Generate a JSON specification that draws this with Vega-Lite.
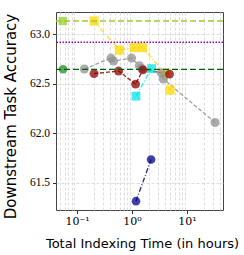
{
  "$schema": "https://vega.github.io/schema/vega-lite/v6.json",
  "width": 167,
  "height": 198,
  "autosize": {"type": "none"},
  "padding": {"left": 56, "top": 12, "right": 21, "bottom": 45},
  "background": "white",
  "config": {
    "view": {"stroke": "#444", "strokeWidth": 1},
    "axis": {
      "domain": false,
      "grid": true,
      "gridColor": "#d4d4d4",
      "gridDash": [3, 2],
      "gridWidth": 0.8,
      "tickColor": "#333",
      "labelColor": "black",
      "labelFont": "DejaVu Serif",
      "labelFontSize": 11,
      "titleFont": "DejaVu Sans",
      "titleFontWeight": "normal",
      "titleColor": "black"
    }
  },
  "resolve": {"axis": {"x": "independent"}},
  "datasets": {
    "pts": [
      {"s": "gold", "t": 0.204, "acc": 63.135},
      {"s": "gold", "t": 0.588, "acc": 62.841},
      {"s": "gold", "t": 1.11, "acc": 62.866},
      {"s": "gold", "t": 1.55, "acc": 62.866},
      {"s": "gold", "t": 3.98, "acc": 62.608},
      {"s": "gold", "t": 4.91, "acc": 62.436},
      {"s": "gray", "t": 0.136, "acc": 62.649},
      {"s": "gray", "t": 0.415, "acc": 62.76},
      {"s": "gray", "t": 0.461, "acc": 62.73},
      {"s": "gray", "t": 0.98, "acc": 62.76},
      {"s": "gray", "t": 1.36, "acc": 62.682},
      {"s": "gray", "t": 1.5, "acc": 62.655},
      {"s": "gray", "t": 3.4, "acc": 62.612},
      {"s": "gray", "t": 3.7, "acc": 62.548},
      {"s": "gray", "t": 32.3, "acc": 62.109},
      {"s": "maroon", "t": 0.204, "acc": 62.603},
      {"s": "maroon", "t": 0.57, "acc": 62.629},
      {"s": "maroon", "t": 1.16, "acc": 62.497},
      {"s": "maroon", "t": 1.58, "acc": 62.641},
      {"s": "maroon", "t": 4.8, "acc": 62.598},
      {"s": "cyan", "t": 1.18, "acc": 62.375},
      {"s": "cyan", "t": 2.26, "acc": 62.654},
      {"s": "navy", "t": 1.18, "acc": 61.313},
      {"s": "navy", "t": 2.22, "acc": 61.735},
      {"s": "dgreen", "t": 0.0557, "acc": 62.646},
      {"s": "lgreen", "t": 0.055, "acc": 63.135}
    ],
    "refs": [
      {"r": "lgreen", "acc": 63.135},
      {"r": "purple", "acc": 62.919},
      {"r": "dgreen", "acc": 62.646}
    ]
  },
  "encoding": {
    "y": {
      "field": "acc",
      "type": "quantitative",
      "scale": {"domain": [61.224, 63.226], "nice": false, "zero": false},
      "axis": {
        "title": "Downstream Task Accuracy",
        "titleFontSize": 15,
        "titleAngle": -90,
        "titleX": -41,
        "titleY": 104,
        "titleAlign": "center",
        "titleBaseline": "alphabetic",
        "values": [61.5, 62, 62.5, 63],
        "format": ".1f",
        "tickSize": 3.5,
        "labelPadding": 3,
        "labelFont": "Liberation Serif, DejaVu Serif",
        "labelFontSize": 11.5
      }
    }
  },
  "layer": [
    {
      "data": {"name": "pts"},
      "mark": {"type": "line", "strokeWidth": 1.3, "opacity": 0.85},
      "encoding": {
        "x": {
          "field": "t",
          "type": "quantitative",
          "scale": {"type": "log", "domain": [0.0415, 45], "nice": false, "zero": false},
          "axis": {
            "orient": "top",
            "title": null,
            "labels": false,
            "ticks": false,
            "domain": false,
            "values": [0.05, 0.06, 0.07, 0.08, 0.09, 0.2, 0.3, 0.4, 0.5, 0.6, 0.7, 0.8, 0.9, 2, 3, 4, 5, 6, 7, 8, 9, 20, 30, 40]
          }
        },
        "color": {"field": "s", "type": "nominal", "legend": null,
          "scale": {"domain": ["gold", "gray", "maroon", "cyan", "navy", "dgreen", "lgreen"],
                    "range": ["#FFD700", "#909090", "#8B0000", "#00E5EE", "#00008B", "#228B22", "#9ACD32"]}},
        "strokeDash": {"field": "s", "type": "nominal", "legend": null,
          "scale": {"domain": ["gold", "gray", "maroon", "cyan", "navy", "dgreen", "lgreen"],
                    "range": [[5, 2, 1, 2], [4, 2], [4, 2], [5, 2, 1, 2], [5, 2, 1, 2], [4, 2], [4, 2]]}}
      }
    },
    {
      "data": {"name": "pts"},
      "mark": {"type": "point", "filled": true, "opacity": 0.75, "strokeWidth": 0},
      "encoding": {
        "x": {
          "field": "t",
          "type": "quantitative",
          "scale": {"type": "log", "domain": [0.0415, 45], "nice": false, "zero": false},
          "axis": {
            "orient": "bottom",
            "title": "Total Indexing Time (in hours)",
            "titleFontSize": 13,
            "titleX": 86,
            "titleY": 37,
            "titleBaseline": "alphabetic",
            "values": [0.1, 1, 10],
            "labelExpr": "datum.value < 0.5 ? '10⁻¹' : datum.value < 5 ? '10⁰' : '10¹'",
            "tickSize": 3.5,
            "labelPadding": 2,
            "labelFlush": false,
            "labelOverlap": false
          }
        },
        "color": {"field": "s", "type": "nominal", "legend": null,
          "scale": {"domain": ["gold", "gray", "maroon", "cyan", "navy", "dgreen", "lgreen"],
                    "range": ["#FFD700", "#808080", "#8B0000", "#00FFFF", "#00008B", "#006400", "#9ACD32"]}},
        "shape": {"field": "s", "type": "nominal", "legend": null,
          "scale": {"domain": ["gold", "gray", "maroon", "cyan", "navy", "dgreen", "lgreen"],
                    "range": ["square", "circle", "circle", "square", "circle", "circle", "square"]}},
        "size": {"field": "s", "type": "nominal", "legend": null,
          "scale": {"domain": ["gold", "gray", "maroon", "cyan", "navy", "dgreen", "lgreen"],
                    "range": [85, 70, 70, 85, 70, 70, 85]}}
      }
    },
    {
      "data": {"name": "refs"},
      "transform": [{"filter": "datum.r == 'lgreen'"}],
      "mark": {"type": "rule", "color": "#9ACD32", "strokeWidth": 1.3, "strokeDash": [6, 3]},
      "encoding": {}
    },
    {
      "data": {"name": "refs"},
      "transform": [{"filter": "datum.r == 'purple'"}],
      "mark": {"type": "rule", "color": "#9400D3", "strokeWidth": 1.5, "strokeDash": [1.5, 1.5]},
      "encoding": {}
    },
    {
      "data": {"name": "refs"},
      "transform": [{"filter": "datum.r == 'dgreen'"}],
      "mark": {"type": "rule", "color": "#006400", "strokeWidth": 1.3, "strokeDash": [6, 3]},
      "encoding": {}
    }
  ]
}
